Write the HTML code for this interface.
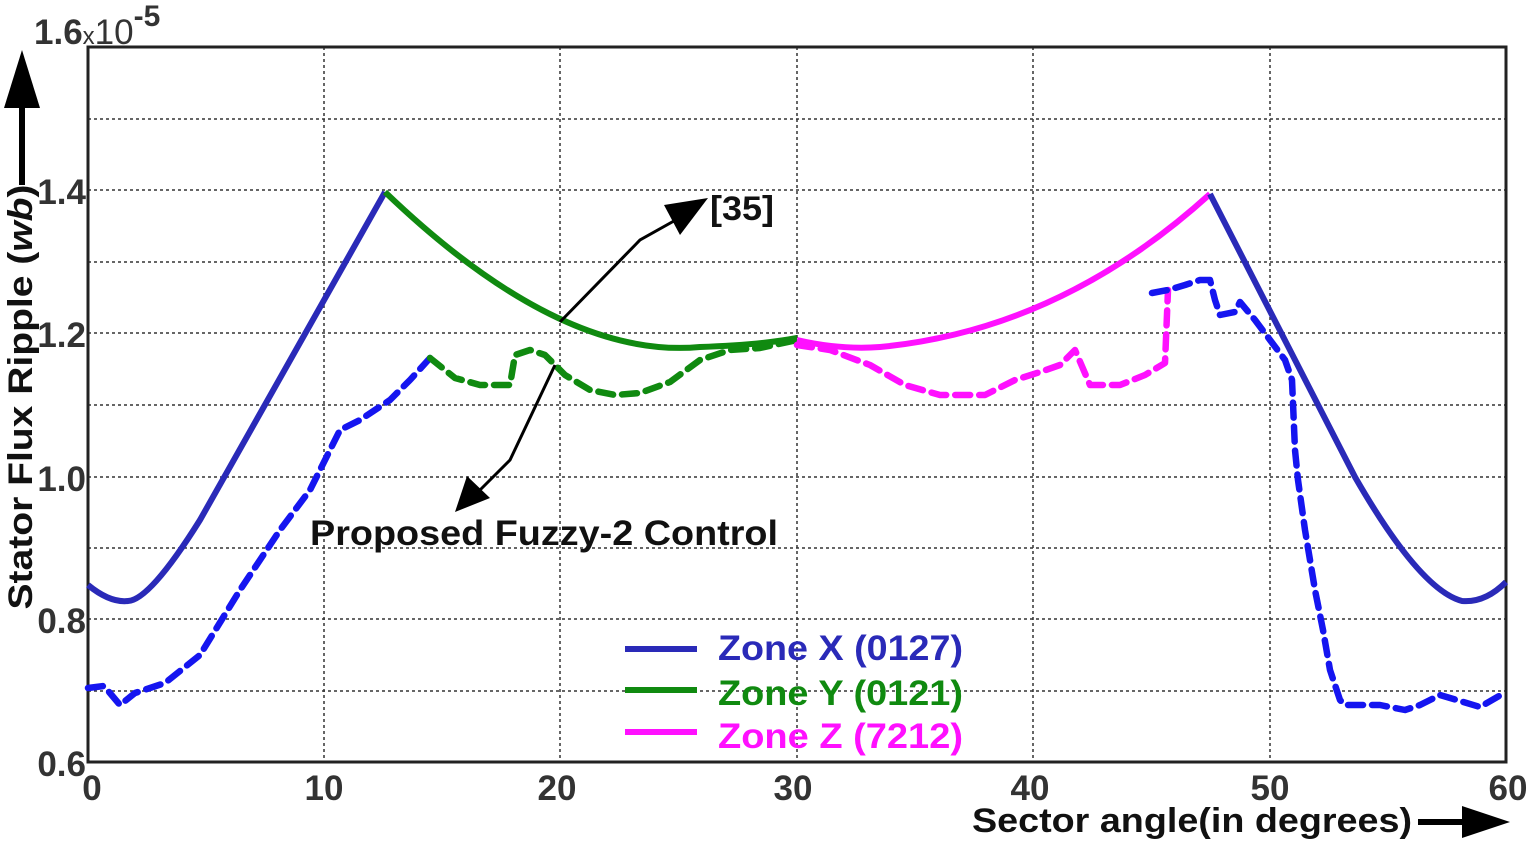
<!DOCTYPE html>
<html><head><style>body{margin:0;background:#fff}svg{display:block}</style></head><body>
<svg width="1534" height="845" xmlns="http://www.w3.org/2000/svg" font-family="Liberation Sans, sans-serif" font-weight="bold">
<g stroke="#333" stroke-width="1.5" stroke-dasharray="3,3">
<line x1="324" y1="47" x2="324" y2="762"/><line x1="560" y1="47" x2="560" y2="762"/><line x1="797" y1="47" x2="797" y2="762"/><line x1="1033" y1="47" x2="1033" y2="762"/><line x1="1270" y1="47" x2="1270" y2="762"/>
<line x1="88" y1="119" x2="1506" y2="119"/><line x1="88" y1="190" x2="1506" y2="190"/><line x1="88" y1="262" x2="1506" y2="262"/><line x1="88" y1="333" x2="1506" y2="333"/><line x1="88" y1="405" x2="1506" y2="405"/><line x1="88" y1="477" x2="1506" y2="477"/><line x1="88" y1="548" x2="1506" y2="548"/><line x1="88" y1="619" x2="1506" y2="619"/><line x1="88" y1="691" x2="1506" y2="691"/>
</g>
<rect x="88" y="47" width="1418" height="715" fill="none" stroke="#222" stroke-width="3"/>
<g fill="none" stroke-width="6" stroke-linejoin="round">
<path d="M88,585 Q110,603 128,601 Q150,600 200,520 L385,192" stroke="#2a2ab8"/>
<path d="M385,192 Q560,360 700,347 Q760,345 797,338" stroke="#108a10"/>
<path d="M797,340 Q840,350 880,347 Q1060,330 1210,194" stroke="#ff10ff"/>
<path d="M1210,194 L1355,477 Q1420,590 1462,601 Q1485,603 1506,582" stroke="#2a2ab8"/>
</g>
<g fill="none" stroke-width="6.5" stroke-dasharray="15,9" stroke-linejoin="round" stroke-linecap="round">
<path d="M88,688 L104,686 L120,705 L135,693 L165,683 L200,655 L240,590 L280,530 L310,490 L340,430 L360,420 L390,400 L410,380 L430,358" stroke="#1515f0"/>
<path d="M430,358 L455,378 L480,385 L510,385 L515,355 L530,350 L545,355 L565,375 L590,390 L615,395 L640,393 L670,382 L700,360 L730,350 L760,348 L797,340" stroke="#108a10"/>
<path d="M797,345 L830,350 L870,365 L905,385 L940,395 L985,395 L1015,380 L1040,372 L1060,365 L1075,350 L1090,385 L1120,385 L1145,375 L1165,363 L1168,290" stroke="#ff10ff"/>
<path d="M1152,293 L1168,290 L1185,285 L1200,280 L1210,280 L1215,300 L1220,315 L1235,312 L1240,302 L1255,320 L1270,340 L1285,360 L1292,380 L1295,450 L1298,480 L1305,530 L1315,590 L1323,630 L1330,670 L1340,700 L1345,705 L1380,705 L1405,710 L1420,705 L1440,695 L1480,707 L1506,692" stroke="#1515f0"/>
</g>
<g stroke="#000" stroke-width="3" fill="none"><polyline points="560,322 640,240 690,212"/><polyline points="555,365 510,460 480,490"/></g>
<polygon points="708,198 664,205 680,235" fill="#000"/>
<polygon points="455,512 467,476 490,498" fill="#000"/>
<text x="710" y="220" font-size="34" fill="#111" textLength="64" lengthAdjust="spacingAndGlyphs">[35]</text>
<text x="310" y="545" font-size="35" fill="#111" textLength="468" lengthAdjust="spacingAndGlyphs">Proposed Fuzzy-2 Control</text>
<g stroke-width="6"><line x1="625" y1="649" x2="697" y2="649" stroke="#2a2ab8"/><line x1="625" y1="690" x2="697" y2="690" stroke="#108a10"/><line x1="625" y1="732" x2="697" y2="732" stroke="#ff10ff"/></g>
<g font-size="35"><text x="718" y="660" fill="#2a2ab8" textLength="245" lengthAdjust="spacingAndGlyphs">Zone X (0127)</text><text x="718" y="705" fill="#108a10" textLength="245" lengthAdjust="spacingAndGlyphs">Zone Y (0121)</text><text x="718" y="748" fill="#ff10ff" textLength="245" lengthAdjust="spacingAndGlyphs">Zone Z (7212)</text></g>
<g font-size="35" fill="#333" text-anchor="end"><text x="86" y="204">1.4</text><text x="86" y="347">1.2</text><text x="86" y="491">1.0</text><text x="86" y="633">0.8</text><text x="86" y="776">0.6</text></g>
<text x="34" y="44" font-size="35" fill="#333">1.6<tspan font-size="24" font-weight="normal">x</tspan><tspan font-weight="normal">10</tspan><tspan font-size="30" dy="-18">-5</tspan></text>
<g font-size="35" fill="#333" text-anchor="middle"><text x="92" y="800">0</text><text x="324" y="800">10</text><text x="557" y="800">20</text><text x="793" y="800">30</text><text x="1030" y="800">40</text><text x="1270" y="800">50</text><text x="1508" y="800">60</text></g>
<text transform="translate(32,397) rotate(-90)" font-size="34" fill="#111" text-anchor="middle" textLength="425" lengthAdjust="spacingAndGlyphs">Stator Flux Ripple (<tspan font-style="italic">wb</tspan>)</text>
<line x1="22" y1="185" x2="22" y2="100" stroke="#000" stroke-width="6"/><polygon points="22,50 4,108 40,108" fill="#000"/>
<text x="972" y="832" font-size="34" fill="#111" textLength="440" lengthAdjust="spacingAndGlyphs">Sector angle(in degrees)</text>
<line x1="1418" y1="822" x2="1470" y2="822" stroke="#000" stroke-width="6"/><polygon points="1510,822 1462,806 1462,838" fill="#000"/>
</svg>
</body></html>
